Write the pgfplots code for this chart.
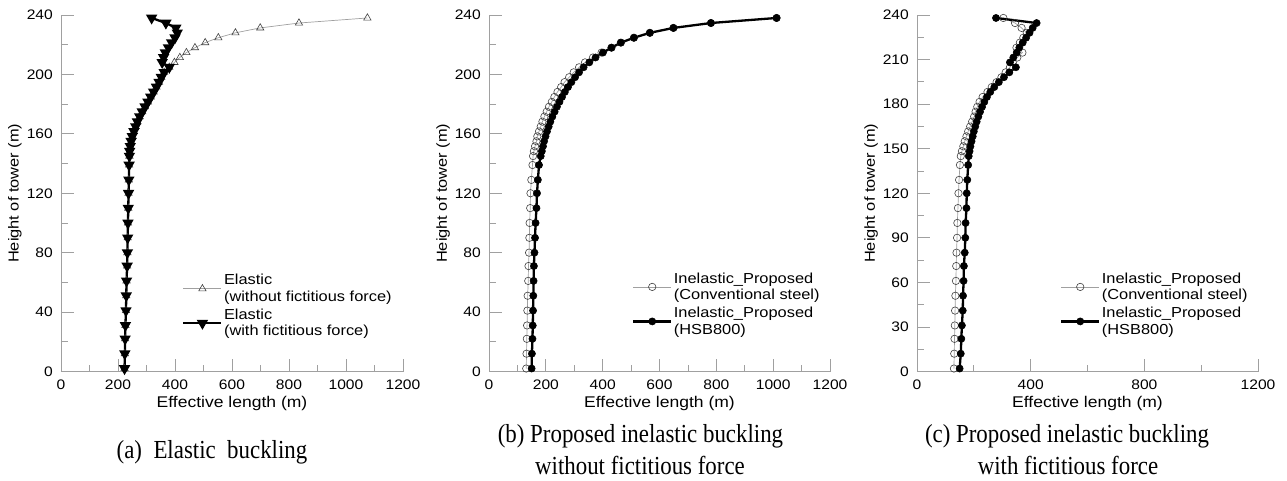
\documentclass[border=0pt]{standalone}
\usepackage{fontspec}
\setmainfont{Liberation Sans}[FakeStretch=1.13]
\newfontfamily\capfont{Liberation Serif}[FakeStretch=0.88]
\usepackage{pgfplots}
\usepackage{pgfplotstable}
\pgfplotsset{compat=1.18}

% (a) Elastic
\pgfplotstableread{
h x
2 223
12 224
22 225
31 226
41 228
51 229
61 230
71 232
80 233
90 234
100 235
110 236
120 237
129 238
139 239
145 240
148.3 241
151.6 243
155 246
158.3 250
161.6 256
164.9 262
168.2 268
171.6 276
174.9 285
178.2 295
181.5 305
184.8 315
188.2 325
191.5 335
194.8 344
198.1 352
201.4 362
204.8 380
208.1 398
211.4 417
214.7 440
218 470
221.4 506
224.7 552
228 612
231.3 699
234.6 835
238 1075
}\elasNo
\pgfplotstableread{
h x
2 223
12 224
22 225
31 226
41 228
51 229
61 230
71 232
80 233
90 234
100 235
110 236
120 237
129 238
139 239
145 240
148.3 241
151.6 243
155 246
158.3 250
161.6 256
164.9 262
168.2 268
171.6 276
174.9 285
178.2 295
181.5 305
184.8 315
188.2 325
191.5 335
194.8 344
198.1 352
201.4 362
204.8 380
208.1 355
211.4 360
214.7 366
218 377
221.4 388
224.7 400
228 408
231.3 403
234.6 368
238 318
}\elasWith
% (b)
\pgfplotstableread{
h x
2 131
12 132
22 133
31 134
41 135
51 136
61 138
71 139
80 141
90 142
100 143
110 145
120 146
129 149
139 153
145 155
148.3 158
151.6 162
155 167
158.3 170
161.6 176
164.9 182
168.2 188
171.6 195
174.9 203
178.2 211
181.5 221
184.8 230
188.2 241
191.5 254
194.8 266
198.1 282
201.4 298
204.8 317
208.1 338
211.4 366
214.7 396
218 431
221.4 464
224.7 510
228 566
231.3 649
234.6 781
238 1012
}\bConv
\pgfplotstableread{
h x
2 150
12 151
22 153
31 154
41 155
51 156
61 157
71 158
80 160
90 162
100 164
110 167
120 169
129 172
139 176
145 182
148.3 186
151.6 190
155 194
158.3 199
161.6 204
164.9 210
168.2 216
171.6 223
174.9 231
178.2 239
181.5 248
184.8 257
188.2 267
191.5 278
194.8 290
198.1 303
201.4 317
204.8 333
208.1 353
211.4 375
214.7 401
218 431
221.4 464
224.7 510
228 566
231.3 649
234.6 781
238 1012
}\bHSB
% (c)
\pgfplotstableread{
h x
2 130
12 131
22 132
31 133
41 134
51 135
61 137
71 138
80 139
90 141
100 142
110 144
120 146
129 148
139 151
145 154
148.3 158
151.6 163
155 168
158.3 174
161.6 180
164.9 187
168.2 194
171.6 201
174.9 206
178.2 212
181.5 220
184.8 231
188.2 248
191.5 263
194.8 280
198.1 297
201.4 312
204.8 327
208.1 337
211.4 353
214.7 371
218 350
221.4 362
224.7 374
228 386
231.3 368
234.6 345
238 304
}\cConv
\pgfplotstableread{
h x
2 150
12 154
22 156
31 158
41 161
51 162
61 164
71 165
80 168
90 170
100 171
110 174
120 175
129 177
139 180
145 182
148.3 185
151.6 188
155 192
158.3 196
161.6 200
164.9 205
168.2 210
171.6 216
174.9 222
178.2 229
181.5 237
184.8 246
188.2 258
191.5 272
194.8 288
198.1 306
201.4 325
204.8 348
208.1 327
211.4 339
214.7 351
218 360
221.4 372
224.7 384
228 396
231.3 407
234.6 421
238 278
}\cHSB

\definecolor{axgray}{RGB}{160,160,160}
\pgfplotsset{
  towerax/.style={
    scale only axis, width=342pt, height=356.5pt,
    xmin=0, xmax=1200, ymin=0, ymax=240,
    axis lines*=left,
    axis line style={axgray, line width=0.8pt},
    tick style={axgray, line width=0.8pt},
    tick align=inside,
    major tick length=12.5pt, minor tick length=7pt,
    minor x tick num=1, minor y tick num=1,
    /pgf/number format/assume math mode=true,
    /pgf/number format/1000 sep={},
    tick label style={font=\fontsize{13.8}{16}\selectfont, text=black},
    xticklabel style={anchor=north, inner sep=0pt, yshift=-8.5pt},
    yticklabel style={anchor=east, inner sep=0pt, xshift=-8pt},
    xlabel={Effective length (m)},
    ylabel={Height of tower (m)},
    xlabel style={font=\fontsize{15.5}{17}\selectfont, at={(axis description cs:0.5,0)}, anchor=center, yshift=-32pt},
    ylabel style={font=\fontsize{14.5}{16}\selectfont, at={(axis description cs:-0.1345,0.5)}, anchor=center},
    legend style={draw=none, fill=none, anchor=north west, inner sep=0pt,
      row sep=3pt, font=\fontsize{14.5}{16.5}\selectfont,
      cells={anchor=west, align=left}, nodes={inner sep=1.5pt}},
    legend image code/.code={\draw[#1, mark repeat=2, mark phase=2] plot coordinates {(0pt,0pt) (19pt,0pt) (38pt,0pt)};},
    clip=false,
  },
  thinser/.style={color=axgray, line width=0.7pt, mark size=3.7pt,
    mark options={draw=black!75, fill=white, solid, line width=0.6pt}},
  thickser/.style={color=black, line width=2.3pt, mark size=3.6pt,
    mark options={fill=black, solid, line width=0.5pt}},
}

\begin{document}
\begin{tikzpicture}
\path[use as bounding box] (0,0) rectangle (1287pt,480pt);

\begin{axis}[towerax, at={(61pt,108.5pt)}, anchor=south west,
  xtick={0,200,...,1200}, ytick={0,40,...,240},
  legend style={at={(0.354,0.277)}}]
\addplot[thinser, mark=triangle, mark size=4.2pt] table[x=x,y=h] {\elasNo};
\addlegendentry{Elastic\\(without fictitious force)}
\addplot[thickser, mark=triangle*, mark size=4.3pt, mark options={rotate=180, fill=black, solid}] table[x=x,y=h] {\elasWith};
\addlegendentry{Elastic\\(with fictitious force)}
\end{axis}

\begin{axis}[towerax, width=341pt, at={(489pt,108.5pt)}, anchor=south west,
  xtick={0,200,...,1200}, ytick={0,40,...,240},
  legend style={at={(0.419,0.282)}}]
\addplot[thinser, mark=o] table[x=x,y=h] {\bConv};
\addlegendentry{Inelastic\_Proposed\\(Conventional steel)}
\addplot[thickser, mark=*] table[x=x,y=h] {\bHSB};
\addlegendentry{Inelastic\_Proposed\\(HSB800)}
\end{axis}

\begin{axis}[towerax, width=341pt, at={(917pt,108.5pt)}, anchor=south west,
  xtick={0,400,800,1200}, ytick={0,30,...,240},
  legend style={at={(0.419,0.282)}}]
\addplot[thinser, mark=o] table[x=x,y=h] {\cConv};
\addlegendentry{Inelastic\_Proposed\\(Conventional steel)}
\addplot[thickser, mark=*] table[x=x,y=h] {\cHSB};
\addlegendentry{Inelastic\_Proposed\\(HSB800)}
\end{axis}

\begin{scope}[every node/.style={anchor=base, inner sep=0pt, font=\capfont\fontsize{26}{30}\selectfont}]
\node at (212pt,22pt) {(a)\ \ Elastic\ \ buckling};
\node at (640.5pt,38pt) {(b) Proposed inelastic buckling};
\node at (640pt,6pt) {without fictitious force};
\node at (1067pt,38pt) {(c) Proposed inelastic buckling};
\node at (1068pt,6pt) {with fictitious force};
\end{scope}
\end{tikzpicture}
\end{document}
